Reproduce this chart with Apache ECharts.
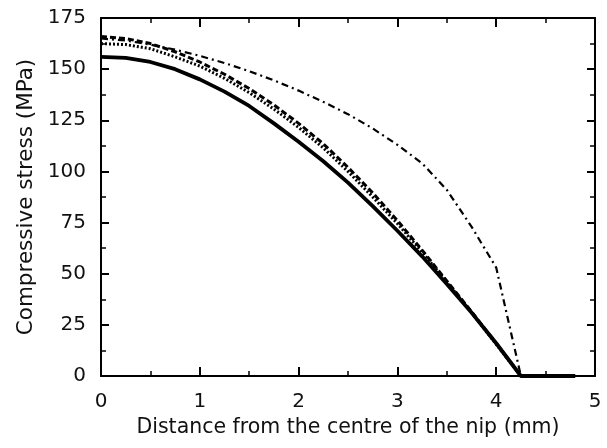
<!DOCTYPE html>
<html>
<head>
<meta charset="utf-8">
<script src="https://cdn.jsdelivr.net/npm/echarts@6/dist/echarts.min.js"></script>
<style>
html,body{margin:0;padding:0;background:#fff;}
#c{width:607px;height:448px;}
</style>
</head>
<body>
<div id="c"></div>
<script>
// Distance from the centre of the nip (mm)
var xs = [0, 0.25, 0.5, 0.75, 1.0, 1.25, 1.5, 1.75, 2.0, 2.25, 2.5, 2.75, 3.0, 3.25, 3.5, 3.75, 4.0, 4.25, 4.5, 4.8];
// Compressive stress (MPa)
var solidVals   = [156, 155.5, 153.5, 150, 145, 139, 132, 123.5, 114.5, 105, 94.5, 83, 71, 58.5, 45, 31, 16, 0, 0, 0];
var dashedVals  = [166, 165, 162.5, 158.5, 153.5, 147.5, 140.5, 132.5, 123.5, 113.5, 102, 89.5, 76, 61.5, 46.5, 31.5, 16, 0, 0, 0];
var dottedVals  = [162.5, 162, 160, 156, 151.5, 145.5, 138.5, 130.5, 121.5, 111.5, 100, 87.5, 74.5, 60.5, 46, 31, 15.5, 0, 0, 0];
var dashDotVals = [165, 164, 162, 159.5, 156.5, 153, 149, 144.5, 139.5, 134, 128, 121, 113, 104, 91, 73, 53, 0, 0, 0];
var xTicks = [0, 1, 2, 3, 4, 5];
var yTicks = [0, 25, 50, 75, 100, 125, 150, 175];

function pairs(vals){ return xs.map(function(x,i){ return [x, vals[i]]; }); }

var FONT = 'DejaVu Sans';
var axisLineStyle = {color:'#000', width:2};
function xAxisDef(pos, showLabel, name){
  return {
    type:'value', position:pos, min:xTicks[0], max:xTicks[xTicks.length-1], interval:1,
    name: name || '', nameLocation:'middle', nameGap:32,
    nameTextStyle:{fontFamily:FONT, fontSize:20.5, color:'#111'},
    axisLine:{show:true, onZero:false, lineStyle:axisLineStyle},
    axisTick:{show:true, inside:true, length:9, lineStyle:{color:'#000', width:2}},
    minorTick:{show:true, splitNumber:2, length:5, lineStyle:{color:'#000', width:1.5}},
    axisLabel:{show:showLabel, margin:16, fontFamily:FONT, fontSize:20, color:'#111'},
    splitLine:{show:false}
  };
}
function yAxisDef(pos, showLabel, name){
  return {
    type:'value', position:pos, min:yTicks[0], max:yTicks[yTicks.length-1], interval:25,
    name: name || '', nameLocation:'middle', nameGap:61, nameRotate:90,
    nameTextStyle:{fontFamily:FONT, fontSize:21.5, color:'#111'},
    axisLine:{show:true, onZero:false, lineStyle:axisLineStyle},
    axisTick:{show:true, inside:true, length:8, lineStyle:{color:'#000', width:2}},
    minorTick:{show:true, splitNumber:2, length:5, lineStyle:{color:'#000', width:1.5}},
    axisLabel:{show:showLabel, margin:15, fontFamily:FONT, fontSize:20, color:'#111'},
    splitLine:{show:false}
  };
}

var chart = echarts.init(document.getElementById('c'), null, {renderer:'canvas'});
chart.setOption({
  animation:false,
  backgroundColor:'#fff',
  grid:{left:101, right:12, top:18, bottom:72, containLabel:false},
  xAxis:[ xAxisDef('bottom', true, 'Distance from the centre of the nip (mm)'), xAxisDef('top', false) ],
  yAxis:[ yAxisDef('left', true, 'Compressive stress (MPa)'), yAxisDef('right', false) ],
  series:[
    {type:'line', data:pairs(dashDotVals), showSymbol:false, xAxisIndex:0, yAxisIndex:0,
     lineStyle:{color:'#000', width:2.2, type:[7,4,2,4]}},
    {type:'line', data:pairs(dashedVals), showSymbol:false, xAxisIndex:0, yAxisIndex:0,
     lineStyle:{color:'#000', width:3, type:[6,3]}},
    {type:'line', data:pairs(dottedVals), showSymbol:false, xAxisIndex:0, yAxisIndex:0,
     lineStyle:{color:'#000', width:3, type:[2,2]}},
    {type:'line', data:pairs(solidVals), showSymbol:false, xAxisIndex:0, yAxisIndex:0,
     lineStyle:{color:'#000', width:3.8, type:'solid'}}
  ]
});
</script>
</body>
</html>
